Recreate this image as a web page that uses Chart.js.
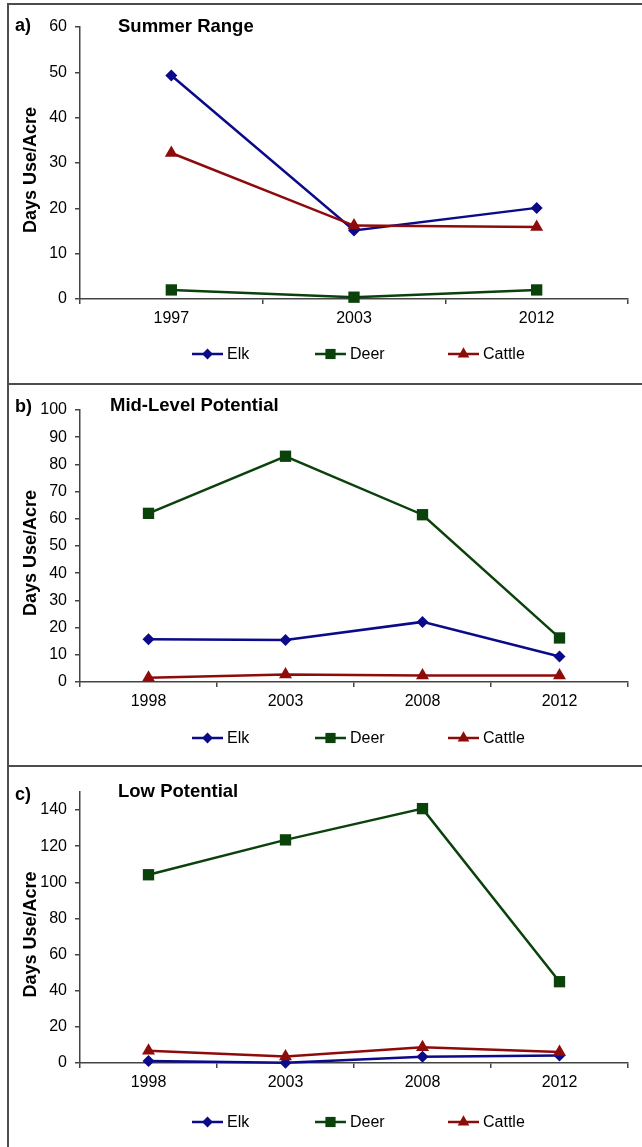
<!DOCTYPE html>
<html>
<head>
<meta charset="utf-8">
<script src="https://cdn.jsdelivr.net/npm/chart.js@4.4.1/dist/chart.umd.min.js"></script>
<style>
  body { margin: 0; background: #fff; width: 642px; height: 1147px; overflow: hidden; position: relative; }
  .panel { position: absolute; left: 7px; width: 700px; border-top: 2px solid #4d4d4d; border-left: 2px solid #4d4d4d; }
  canvas { position: absolute; left: 0; }
</style>
</head>
<body>
<div class="panel" style="top:3px;height:380px"></div>
<div class="panel" style="top:383px;height:381px"></div>
<div class="panel" style="top:765px;height:400px"></div>
<canvas id="chart-a" width="642" height="383" style="top:0px"></canvas>
<canvas id="chart-b" width="642" height="382" style="top:384px"></canvas>
<canvas id="chart-c" width="642" height="381" style="top:766px"></canvas>
<script>
const FONT = "'Liberation Sans', Arial, sans-serif";

// Summer range
const yearsA = ['1997', '2003', '2012'];
const elkA = [49.3, 15.1, 20.1];
const deerA = [2.0, 0.4, 2.0];
const cattleA = [32.2, 16.2, 15.9];

// Mid-level potential
const yearsB = ['1998', '2003', '2008', '2012'];
const elkB = [15.7, 15.4, 22.1, 9.4];
const deerB = [62.0, 83.0, 61.5, 16.2];
const cattleB = [1.6, 2.8, 2.4, 2.4];

// Low potential
const yearsC = ['1998', '2003', '2008', '2012'];
const elkC = [1.1, 0.2, 3.5, 4.2];
const deerC = [104.2, 123.5, 140.8, 45.0];
const cattleC = [6.8, 3.6, 8.7, 6.1];

const ELK = '#0a0a8a';
const DEER = '#0b420b';
const CATTLE = '#8e0b0b';
const AXIS = '#444';
const LEGEND_X = [192, 315, 448];

function marker(ctx, style, x, y, r, color) {
  ctx.fillStyle = color;
  ctx.beginPath();
  if (style === 'rectRot') {
    ctx.moveTo(x, y - r); ctx.lineTo(x + r, y); ctx.lineTo(x, y + r); ctx.lineTo(x - r, y);
  } else if (style === 'rect') {
    const s = r * Math.SQRT1_2;
    ctx.rect(x - s, y - s, 2 * s, 2 * s);
  } else {
    ctx.moveTo(x, y - r); ctx.lineTo(x + r * 0.866, y + r / 2); ctx.lineTo(x - r * 0.866, y + r / 2);
  }
  ctx.closePath();
  ctx.fill();
}

// panel tag, heading, rotated axis title and line+marker legend
const decor = {
  id: 'decor',
  afterDraw(chart, args, opts) {
    const { ctx, chartArea } = chart;
    ctx.save();
    ctx.fillStyle = '#000';
    ctx.textBaseline = 'middle';
    ctx.textAlign = 'left';
    ctx.font = 'bold 18px ' + FONT;
    ctx.fillText(opts.tag, 15, opts.tagY);
    ctx.font = 'bold 18.5px ' + FONT;
    ctx.fillText(opts.heading, opts.headingX, opts.headingY);

    ctx.save();
    ctx.translate(31, (chartArea.top + chartArea.bottom) / 2 + 7);
    ctx.rotate(-Math.PI / 2);
    ctx.textAlign = 'center';
    ctx.font = 'bold 18px ' + FONT;
    ctx.fillText('Days Use/Acre', 0, 0);
    ctx.restore();

    chart.data.datasets.forEach((ds, i) => {
      const x = LEGEND_X[i];
      const y = opts.legendY;
      ctx.strokeStyle = ds.borderColor;
      ctx.lineWidth = 2.5;
      ctx.beginPath();
      ctx.moveTo(x, y);
      ctx.lineTo(x + 31, y);
      ctx.stroke();
      marker(ctx, ds.pointStyle, x + 15.5, y, ds.pointRadius * 0.9, ds.backgroundColor);
      ctx.fillStyle = '#000';
      ctx.font = '16px ' + FONT;
      ctx.fillText(ds.label, x + 35, y + 1);
    });
    ctx.restore();
  }
};

function series(label, data, color, style, radius, order) {
  return {
    label, data, order,
    borderColor: color,
    backgroundColor: color,
    borderWidth: 2.5,
    pointStyle: style,
    pointRadius: radius,
    pointHoverRadius: radius,
    pointBorderWidth: 0,
    tension: 0,
    clip: false
  };
}

function makeChart(id, years, elk, deer, cattle, yMax, step, deco) {
  return new Chart(document.getElementById(id), {
    type: 'line',
    data: {
      labels: years,
      datasets: [
        series('Elk', elk, ELK, 'rectRot', 6, 2),
        series('Deer', deer, DEER, 'rect', 8, 1),
        series('Cattle', cattle, CATTLE, 'triangle', 7.5, 0)
      ]
    },
    options: {
      responsive: false,
      animation: false,
      events: [],
      layout: { padding: { left: 0, right: 14, top: deco.top, bottom: 54 } },
      scales: {
        x: {
          offset: true,
          grid: { offset: true, drawOnChartArea: false, tickLength: 5, color: AXIS, lineWidth: 1.5 },
          border: { color: AXIS, width: 1.5 },
          ticks: { color: '#000', padding: 5, font: { family: FONT, size: 16 }, maxRotation: 0 },
          afterFit(scale) { scale.height = 30; }
        },
        y: {
          min: 0,
          max: yMax,
          grid: { drawOnChartArea: false, tickLength: 5, color: AXIS, lineWidth: 1.5 },
          border: { color: AXIS, width: 1.5 },
          ticks: { stepSize: step, color: '#000', padding: 8, font: { family: FONT, size: 16 } },
          afterBuildTicks(scale) { scale.ticks = scale.ticks.filter(t => t.value % step === 0); },
          afterFit(scale) { scale.width = 80; }
        }
      },
      plugins: {
        legend: { display: false },
        tooltip: { enabled: false },
        decor: deco
      }
    },
    plugins: [decor]
  });
}

makeChart('chart-a', yearsA, elkA, deerA, cattleA, 60, 10,
  { top: 27, tag: 'a)', tagY: 26, heading: 'Summer Range', headingX: 118, headingY: 27, legendY: 354 });
makeChart('chart-b', yearsB, elkB, deerB, cattleB, 100, 10,
  { top: 26, tag: 'b)', tagY: 23, heading: 'Mid-Level Potential', headingX: 110, headingY: 22, legendY: 354 });
makeChart('chart-c', yearsC, elkC, deerC, cattleC, 150, 20,
  { top: 26, tag: 'c)', tagY: 29, heading: 'Low Potential', headingX: 118, headingY: 26, legendY: 356 });
</script>
</body>
</html>
